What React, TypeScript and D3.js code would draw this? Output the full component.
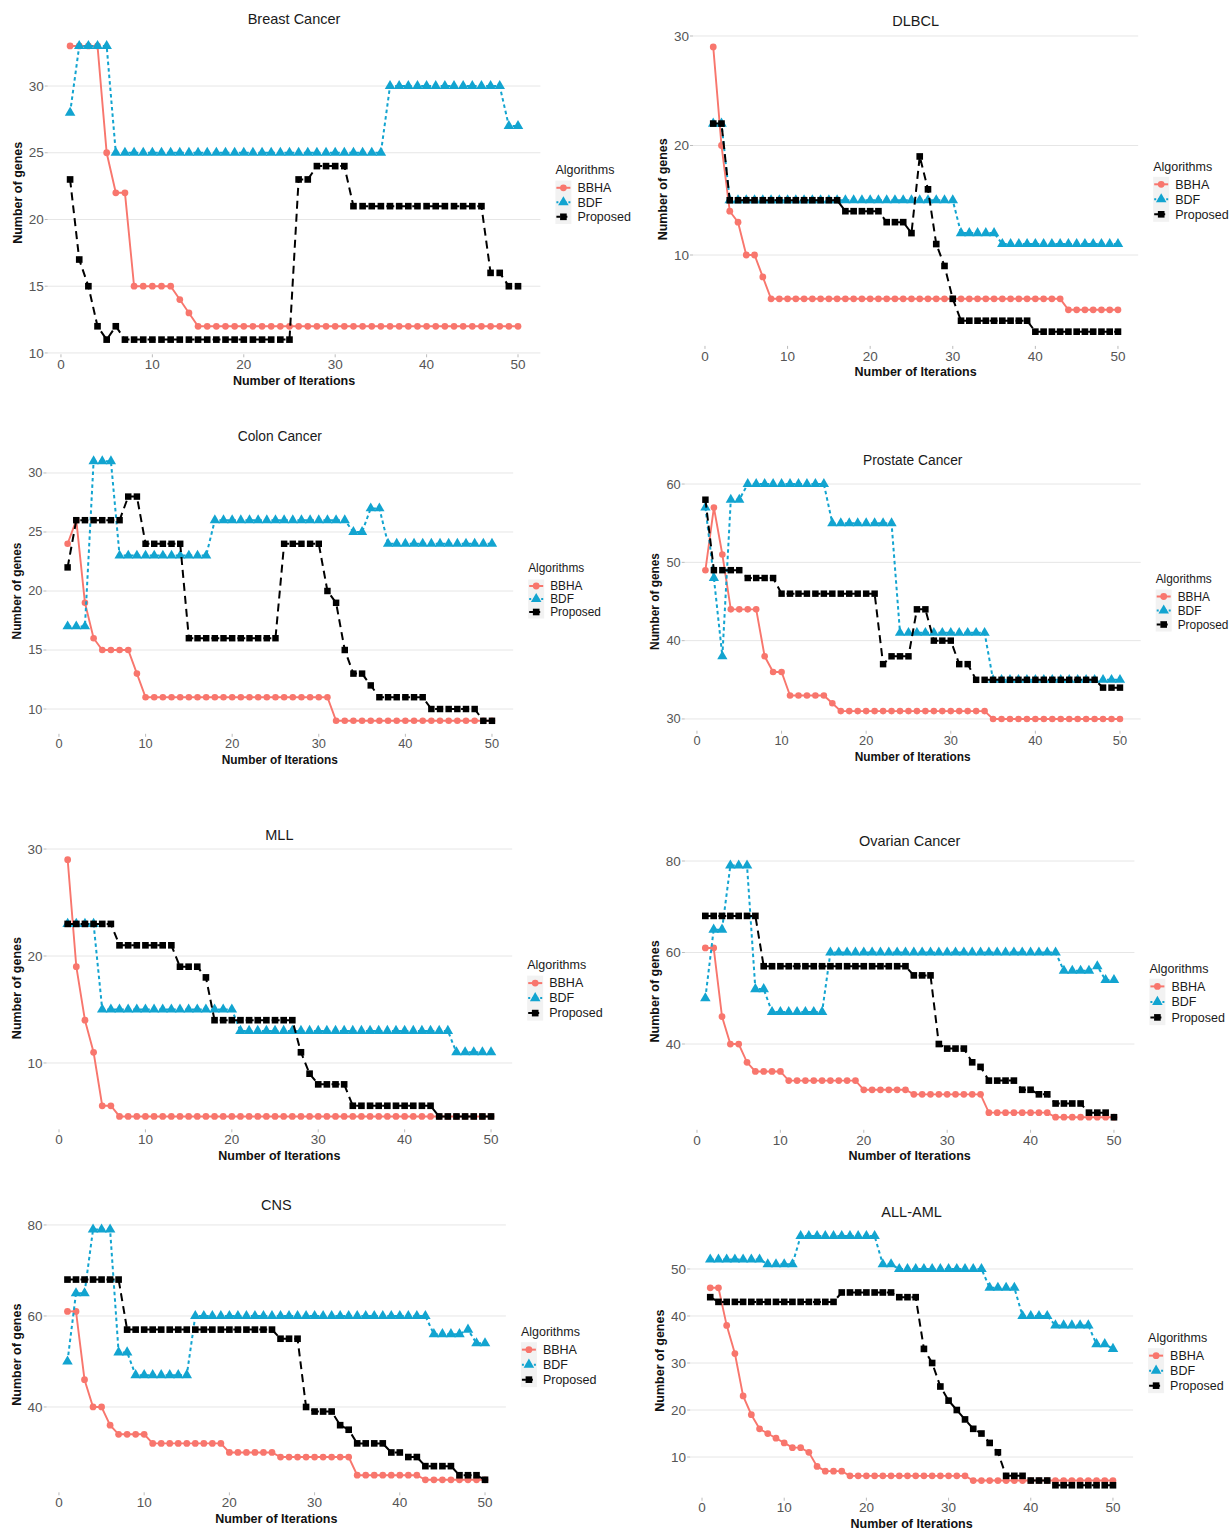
import React from 'react';
import * as d3 from 'd3';

// Algorithms compared in every panel
const seriesNames = ['BBHA', 'BDF', 'Proposed'];

// Number of selected genes per iteration (iterations 1..50)
const breastBBHA = [33,33,33,33,25,22,22,15,15,15,15,15,14,13,12,12,12,12,12,12,12,12,12,12,12,12,12,12,12,12,12,12,12,12,12,12,12,12,12,12,12,12,12,12,12,12,12,12,12,12];
const breastBDF = [28,33,33,33,33,25,25,25,25,25,25,25,25,25,25,25,25,25,25,25,25,25,25,25,25,25,25,25,25,25,25,25,25,25,25,30,30,30,30,30,30,30,30,30,30,30,30,30,27,27];
const breastProposed = [23,17,15,12,11,12,11,11,11,11,11,11,11,11,11,11,11,11,11,11,11,11,11,11,11,23,23,24,24,24,24,21,21,21,21,21,21,21,21,21,21,21,21,21,21,21,16,16,15,15];

const dlbclBBHA = [29,20,14,13,10,10,8,6,6,6,6,6,6,6,6,6,6,6,6,6,6,6,6,6,6,6,6,6,6,6,6,6,6,6,6,6,6,6,6,6,6,6,6,5,5,5,5,5,5,5];
const dlbclBDF = [22,22,15,15,15,15,15,15,15,15,15,15,15,15,15,15,15,15,15,15,15,15,15,15,15,15,15,15,15,15,12,12,12,12,12,11,11,11,11,11,11,11,11,11,11,11,11,11,11,11];
const dlbclProposed = [22,22,15,15,15,15,15,15,15,15,15,15,15,15,15,15,14,14,14,14,14,13,13,13,12,19,16,11,9,6,4,4,4,4,4,4,4,4,4,3,3,3,3,3,3,3,3,3,3,3];

const colonBBHA = [24,26,19,16,15,15,15,15,13,11,11,11,11,11,11,11,11,11,11,11,11,11,11,11,11,11,11,11,11,11,11,9,9,9,9,9,9,9,9,9,9,9,9,9,9,9,9,9,9,9];
const colonBDF = [17,17,17,31,31,31,23,23,23,23,23,23,23,23,23,23,23,26,26,26,26,26,26,26,26,26,26,26,26,26,26,26,26,25,25,27,27,24,24,24,24,24,24,24,24,24,24,24,24,24];
const colonProposed = [22,26,26,26,26,26,26,28,28,24,24,24,24,24,16,16,16,16,16,16,16,16,16,16,16,24,24,24,24,24,20,19,15,13,13,12,11,11,11,11,11,11,10,10,10,10,10,10,9,9];

const prostateBBHA = [49,57,51,44,44,44,44,38,36,36,33,33,33,33,33,32,31,31,31,31,31,31,31,31,31,31,31,31,31,31,31,31,31,31,30,30,30,30,30,30,30,30,30,30,30,30,30,30,30,30];
const prostateBDF = [57,48,38,58,58,60,60,60,60,60,60,60,60,60,60,55,55,55,55,55,55,55,55,41,41,41,41,41,41,41,41,41,41,41,35,35,35,35,35,35,35,35,35,35,35,35,35,35,35,35];
const prostateProposed = [58,49,49,49,49,48,48,48,48,46,46,46,46,46,46,46,46,46,46,46,46,37,38,38,38,44,44,40,40,40,37,37,35,35,35,35,35,35,35,35,35,35,35,35,35,35,35,34,34,34];

const mllBBHA = [29,19,14,11,6,6,5,5,5,5,5,5,5,5,5,5,5,5,5,5,5,5,5,5,5,5,5,5,5,5,5,5,5,5,5,5,5,5,5,5,5,5,5,5,5,5,5,5,5,5];
const mllBDF = [23,23,23,23,15,15,15,15,15,15,15,15,15,15,15,15,15,15,15,15,13,13,13,13,13,13,13,13,13,13,13,13,13,13,13,13,13,13,13,13,13,13,13,13,13,11,11,11,11,11];
const mllProposed = [23,23,23,23,23,23,21,21,21,21,21,21,21,19,19,19,18,14,14,14,14,14,14,14,14,14,14,11,9,8,8,8,8,6,6,6,6,6,6,6,6,6,6,5,5,5,5,5,5,5];

const ovarianBBHA = [61,61,46,40,40,36,34,34,34,34,32,32,32,32,32,32,32,32,32,30,30,30,30,30,30,29,29,29,29,29,29,29,29,29,25,25,25,25,25,25,25,25,24,24,24,24,24,24,24,24];
const ovarianBDF = [50,65,65,79,79,79,52,52,47,47,47,47,47,47,47,60,60,60,60,60,60,60,60,60,60,60,60,60,60,60,60,60,60,60,60,60,60,60,60,60,60,60,60,56,56,56,56,57,54,54];
const ovarianProposed = [68,68,68,68,68,68,68,57,57,57,57,57,57,57,57,57,57,57,57,57,57,57,57,57,57,55,55,55,40,39,39,39,36,35,32,32,32,32,30,30,29,29,27,27,27,27,25,25,25,24];

const cnsBBHA = [61,61,46,40,40,36,34,34,34,34,32,32,32,32,32,32,32,32,32,30,30,30,30,30,30,29,29,29,29,29,29,29,29,29,25,25,25,25,25,25,25,25,24,24,24,24,24,24,24,24];
const cnsBDF = [50,65,65,79,79,79,52,52,47,47,47,47,47,47,47,60,60,60,60,60,60,60,60,60,60,60,60,60,60,60,60,60,60,60,60,60,60,60,60,60,60,60,60,56,56,56,56,57,54,54];
const cnsProposed = [68,68,68,68,68,68,68,57,57,57,57,57,57,57,57,57,57,57,57,57,57,57,57,57,57,55,55,55,40,39,39,39,36,35,32,32,32,32,30,30,29,29,27,27,27,27,25,25,25,24];

const allAmlBBHA = [46,46,38,32,23,19,16,15,14,13,12,12,11,8,7,7,7,6,6,6,6,6,6,6,6,6,6,6,6,6,6,6,5,5,5,5,5,5,5,5,5,5,5,5,5,5,5,5,5,5];
const allAmlBDF = [52,52,52,52,52,52,52,51,51,51,51,57,57,57,57,57,57,57,57,57,57,51,51,50,50,50,50,50,50,50,50,50,50,50,46,46,46,46,40,40,40,40,38,38,38,38,38,34,34,33];
const allAmlProposed = [44,43,43,43,43,43,43,43,43,43,43,43,43,43,43,43,45,45,45,45,45,45,45,44,44,44,33,30,25,22,20,18,16,15,13,11,6,6,6,5,5,5,4,4,4,4,4,4,4,4];

// Axis tick values
const xTicks = [0, 10, 20, 30, 40, 50];
const breastTicks = [10, 15, 20, 25, 30];
const dlbclTicks = [10, 20, 30];
const colonTicks = [10, 15, 20, 25, 30];
const prostateTicks = [30, 40, 50, 60];
const mllTicks = [10, 20, 30];
const ovarianTicks = [40, 60, 80];
const cnsTicks = [40, 60, 80];
const allAmlTicks = [10, 20, 30, 40, 50];

const panels = [
  { title: 'Breast Cancer', series: [breastBBHA, breastBDF, breastProposed], yTicks: breastTicks },
  { title: 'DLBCL', series: [dlbclBBHA, dlbclBDF, dlbclProposed], yTicks: dlbclTicks },
  { title: 'Colon Cancer', series: [colonBBHA, colonBDF, colonProposed], yTicks: colonTicks },
  { title: 'Prostate Cancer', series: [prostateBBHA, prostateBDF, prostateProposed], yTicks: prostateTicks },
  { title: 'MLL', series: [mllBBHA, mllBDF, mllProposed], yTicks: mllTicks },
  { title: 'Ovarian Cancer', series: [ovarianBBHA, ovarianBDF, ovarianProposed], yTicks: ovarianTicks },
  { title: 'CNS', series: [cnsBBHA, cnsBDF, cnsProposed], yTicks: cnsTicks },
  { title: 'ALL-AML', series: [allAmlBBHA, allAmlBDF, allAmlProposed], yTicks: allAmlTicks },
];

// Plot-area boxes on the page
const boxes = [
  { left: 47.7, top: 31.3, width: 492.7, height: 323, step: 14.5, fs: 1 },
  { left: 693, top: 32.7, width: 445.2, height: 313.2, step: 15, fs: 1 },
  { left: 46.4, top: 448.2, width: 466.8, height: 285.6, step: 13, fs: 0.95 },
  { left: 684.7, top: 472.3, width: 456, height: 258.4, step: 14, fs: 0.95 },
  { left: 46.5, top: 846.9, width: 465.7, height: 282.4, step: 15, fs: 1 },
  { left: 684.9, top: 853, width: 449.5, height: 276.8, step: 15.5, fs: 1 },
  { left: 46.6, top: 1217, width: 459.3, height: 275.3, step: 15, fs: 1 },
  { left: 690.1, top: 1223.6, width: 443, height: 274.1, step: 15, fs: 1 },
];

const colors = ['#F8766D', '#12A4D0', '#000000'];
const dashes = ['none', '3.5,3', '8,5'];
const symbols = [d3.symbolCircle, d3.symbolTriangle, d3.symbolSquare];
const symbolSizes = [36, 48, 44];
const FONT = '"Liberation Sans", Arial, Helvetica, sans-serif';

function expand(lo: number, hi: number) {
  const pad = (hi - lo) * 0.05;
  return [lo - pad, hi + pad];
}

function Panel({ panel, box }: { panel: typeof panels[0]; box: typeof boxes[0] }) {
  const { left, top, width, height, step, fs } = box;
  const right = left + width;
  const bottom = top + height;
  const allValues = panel.series.flat();
  const x = d3.scaleLinear().domain(expand(1, 50)).range([left, right]);
  const y = d3
    .scaleLinear()
    .domain(expand(d3.min(allValues) as number, d3.max(allValues) as number))
    .range([bottom, top]);
  const line = d3
    .line<number>()
    .x((_, i) => x(i + 1))
    .y((d) => y(d));
  const cy = (top + bottom) / 2;
  const cx = (left + right) / 2;
  const lx = right + 15;
  const tickColor = '#555';

  return (
    <g>
      {/* grid */}
      {panel.yTicks.map((t) => (
        <line key={'g' + t} x1={left} x2={right} y1={y(t)} y2={y(t)} stroke="#e6e6e6" strokeWidth={1} />
      ))}
      {/* y axis */}
      {panel.yTicks.map((t) => (
        <g key={'y' + t}>
          <line x1={left - 3} x2={left} y1={y(t)} y2={y(t)} stroke="#aaa" strokeWidth={0.8} />
          <text x={left - 4} y={y(t)} dy="0.35em" textAnchor="end" fontSize={13.5 * fs} fill={tickColor} fontFamily={FONT}>
            {t}
          </text>
        </g>
      ))}
      {/* x axis */}
      {xTicks.map((t) => (
        <g key={'x' + t}>
          <line x1={x(t)} x2={x(t)} y1={bottom} y2={bottom + 3} stroke="#aaa" strokeWidth={0.8} />
          <text x={x(t)} y={bottom + 10} dy="0.35em" textAnchor="middle" fontSize={13.5 * fs} fill={tickColor} fontFamily={FONT}>
            {t}
          </text>
        </g>
      ))}
      {/* series */}
      {panel.series.map((s, si) => (
        <g key={'s' + si}>
          <path
            d={line(s) as string}
            fill="none"
            stroke={colors[si]}
            strokeWidth={si === 0 ? 1.9 : 2}
            strokeDasharray={dashes[si]}
          />
          {s.map((v, i) => (
            <path
              key={i}
              transform={`translate(${x(i + 1)},${y(v)})`}
              d={d3.symbol().type(symbols[si]).size(symbolSizes[si] * fs)() as string}
              fill={colors[si]}
            />
          ))}
        </g>
      ))}
      {/* titles */}
      <text x={cx} y={top - 12} dy="0.35em" textAnchor="middle" fontSize={14.5 * fs} fill="#1a1a1a" fontFamily={FONT}>
        {panel.title}
      </text>
      <text x={cx} y={bottom + 26} dy="0.35em" textAnchor="middle" fontSize={12.5 * fs} fontWeight="bold" fill="#111" fontFamily={FONT}>
        Number of Iterations
      </text>
      <text
        transform={`translate(${left - 30},${cy}) rotate(-90)`}
        dy="0.35em"
        textAnchor="middle"
        fontSize={12.5 * fs}
        fontWeight="bold"
        fill="#111"
        fontFamily={FONT}
      >
        Number of genes
      </text>
      {/* legend */}
      <text x={lx} y={cy - 23} dy="0.35em" fontSize={12.5 * fs} fill="#1a1a1a" fontFamily={FONT}>
        Algorithms
      </text>
      <rect x={lx} y={cy - 5 - step / 2} width={16} height={step * 3} fill="#f2f2f2" />
      {seriesNames.map((name, si) => {
        const iy = cy - 5 + si * step;
        return (
          <g key={name}>
            <line
              x1={lx + 1}
              x2={lx + 15}
              y1={iy}
              y2={iy}
              stroke={colors[si]}
              strokeWidth={2}
              strokeDasharray={si === 0 ? 'none' : si === 1 ? '2,2' : '4,3'}
            />
            <path
              transform={`translate(${lx + 8},${iy})`}
              d={d3.symbol().type(symbols[si]).size(symbolSizes[si])() as string}
              fill={colors[si]}
            />
            <text x={lx + 22} y={iy} dy="0.35em" fontSize={12.5 * fs} fill="#1a1a1a" fontFamily={FONT}>
              {name}
            </text>
          </g>
        );
      })}
    </g>
  );
}

export default function App() {
  return (
    <svg
      width={1231}
      height={1531}
      viewBox="0 0 1231 1531"
      style={{ position: 'absolute', left: 0, top: 0, background: '#fff' }}
    >
      <rect x={0} y={0} width={1231} height={1531} fill="#fff" />
      {panels.map((p, i) => (
        <Panel key={p.title} panel={p} box={boxes[i]} />
      ))}
    </svg>
  );
}
